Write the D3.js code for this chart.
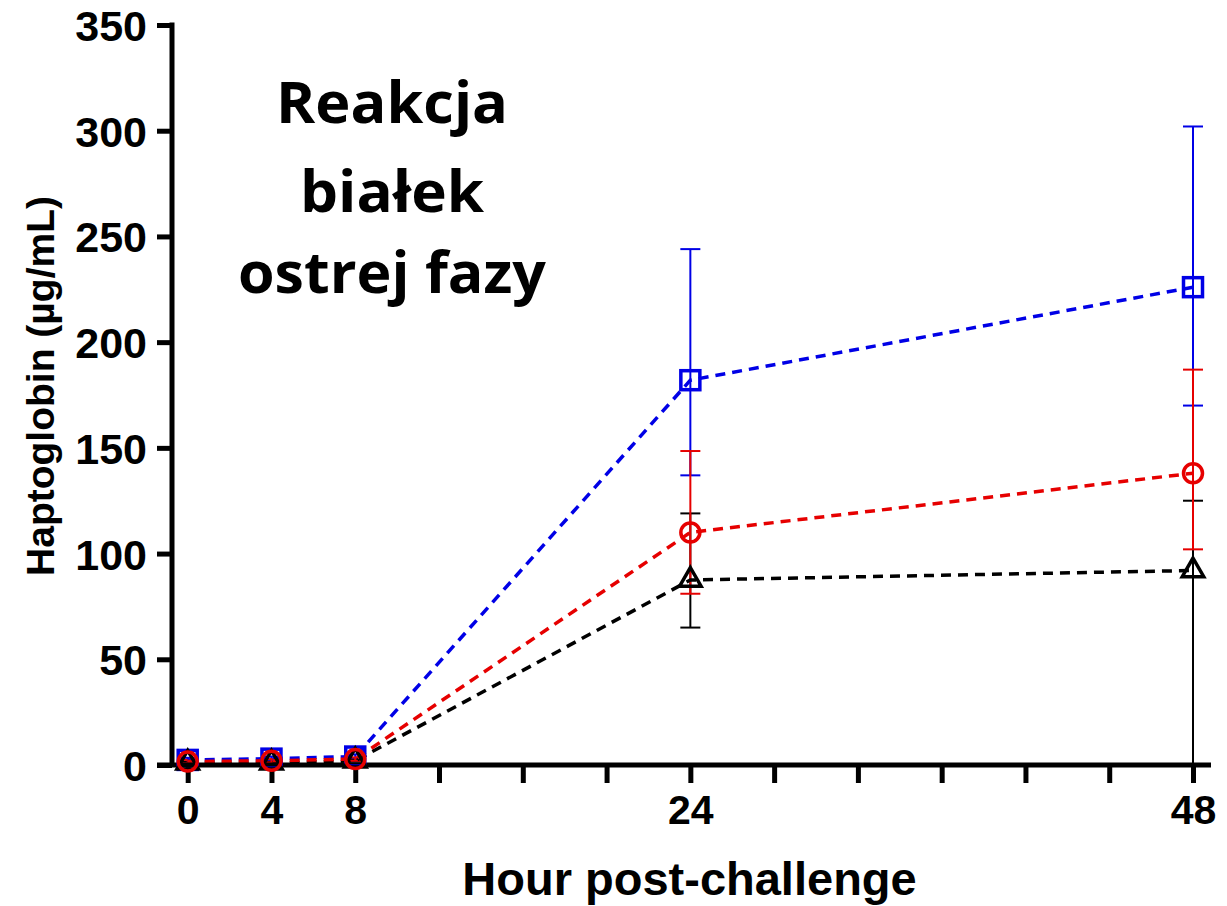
<!DOCTYPE html>
<html>
<head>
<meta charset="utf-8">
<script src="https://cdn.jsdelivr.net/npm/d3@7"></script>
<style>
  html, body { margin: 0; padding: 0; background: #fff; }
  svg { display: block; }
</style>
</head>
<body>
<svg id="chart" width="1227" height="906"></svg>
<script>
// ---- data ----
const hours = [0, 4, 8, 24, 48];
const xTickLabels = ["0", "4", "8", "24", "48"];
const xMinorTicks = [12, 16, 20, 28, 32, 36, 40, 44];
const yTicks = [0, 50, 100, 150, 200, 250, 300, 350];

const blueMean  = [2.4, 3, 4, 182, 226];
const blueLow   = [1.4, 2, 3, 137, 170];
const blueHigh  = [3.4, 4, 5, 244, 302];

const redMean   = [1.6, 2, 2.8, 110, 138];
const redLow    = [0.8, 1.2, 2, 81, 102];
const redHigh   = [2.4, 2.8, 3.6, 148.5, 187];

const blackMean = [1, 1, 2, 87.5, 92];
const blackLow  = [0.5, 0.5, 1.5, 65, 0];
const blackHigh = [1.5, 1.5, 2.5, 119, 125];

const titleLines = ["Reakcja", "białek", "ostrej fazy"];
const xLabel = "Hour post-challenge";
const yLabel = "Haptoglobin (µg/mL)";

// ---- layout ----
const svg = d3.select("#chart");
const x = d3.scaleLinear().domain([0, 48]).range([187.7, 1193]);
const y = d3.scaleLinear().domain([0, 350]).range([765, 25]);

const blue = "#0000e6", red = "#e60000", black = "#000000";

function build(mean, low, high) {
  return hours.map((h, i) => ({h, m: mean[i], lo: low[i], hi: high[i]}));
}
const series = [
  {name: "blue", color: blue, data: build(blueMean, blueLow, blueHigh), marker: "square"},
  {name: "black", color: black, data: build(blackMean, blackLow, blackHigh), marker: "triangle"},
  {name: "red", color: red, data: build(redMean, redLow, redHigh), marker: "circle"}
];

// error bars
const capW = 10;
series.forEach(s => {
  const g = svg.append("g");
  s.data.forEach(d => {
    g.append("line").attr("x1", x(d.h)).attr("x2", x(d.h))
      .attr("y1", y(d.lo)).attr("y2", y(d.hi))
      .attr("stroke", s.color).attr("stroke-width", 2);
    [d.lo, d.hi].forEach(v => {
      g.append("line").attr("x1", x(d.h) - capW).attr("x2", x(d.h) + capW)
        .attr("y1", y(v)).attr("y2", y(v))
        .attr("stroke", s.color).attr("stroke-width", 2);
    });
  });
});

// dashed lines
const line = d3.line().x(d => x(d.h)).y(d => y(d.m));
series.forEach(s => {
  svg.append("path").datum(s.data).attr("d", line)
    .attr("fill", "none").attr("stroke", s.color)
    .attr("stroke-width", 3.5).attr("stroke-dasharray", "10,7");
});

// axes
const axisG = svg.append("g");
// y axis
const yAxis = d3.axisLeft(y).tickValues(yTicks).tickSize(15).tickPadding(10);
const yg = axisG.append("g").attr("transform", "translate(172,0)").call(yAxis);
yg.select(".domain").remove();
yg.selectAll(".tick line").attr("stroke", "#000").attr("stroke-width", 5);
yg.selectAll(".tick text").attr("font-family", "'Liberation Sans', Arial, sans-serif")
  .attr("font-weight", "bold").attr("font-size", 43).attr("fill", "#000").attr("dy", "0.36em");
axisG.append("line").attr("x1", 172).attr("x2", 172).attr("y1", y(350) - 2.5).attr("y2", y(0))
  .attr("stroke", "#000").attr("stroke-width", 5);

// x axis
const xAxis = d3.axisBottom(x).tickValues(hours).tickFormat((d, i) => xTickLabels[i]).tickSize(18).tickPadding(12);
const xg = axisG.append("g").attr("transform", `translate(0,${y(0)})`).call(xAxis);
xg.select(".domain").remove();
xg.selectAll(".tick line").attr("stroke", "#000").attr("stroke-width", 5);
xg.selectAll(".tick text").attr("font-family", "'Liberation Sans', Arial, sans-serif")
  .attr("font-weight", "bold").attr("font-size", 41).attr("fill", "#000");
const xMinor = d3.axisBottom(x).tickValues(xMinorTicks).tickSize(18).tickFormat("");
const xmg = axisG.append("g").attr("transform", `translate(0,${y(0)})`).call(xMinor);
xmg.select(".domain").remove();
xmg.selectAll(".tick line").attr("stroke", "#000").attr("stroke-width", 5);
axisG.append("line").attr("x1", 157).attr("x2", 1211).attr("y1", y(0)).attr("y2", y(0))
  .attr("stroke", "#000").attr("stroke-width", 5);

// markers
series.forEach(s => {
  const g = svg.append("g");
  s.data.forEach(d => {
    const cx = x(d.h), cy = y(d.m);
    if (s.marker === "square") {
      g.append("rect").attr("x", cx - 9.5).attr("y", cy - 9.5).attr("width", 19).attr("height", 19)
        .attr("fill", "none").attr("stroke", s.color).attr("stroke-width", 3.5);
    } else if (s.marker === "circle") {
      g.append("circle").attr("cx", cx).attr("cy", cy).attr("r", 9.5)
        .attr("fill", "none").attr("stroke", s.color).attr("stroke-width", 3.5);
    } else {
      const tri = d3.symbol().type(d3.symbolTriangle).size(200);
      g.append("path").attr("d", tri()).attr("transform", `translate(${cx},${cy})`)
        .attr("fill", "none").attr("stroke", s.color).attr("stroke-width", 3.5)
        .attr("stroke-linejoin", "miter");
    }
  });
});

// axis titles
svg.append("text").attr("x", (463 + 916) / 2).attr("y", 895)
  .attr("text-anchor", "middle").attr("font-family", "'Liberation Sans', Arial, sans-serif")
  .attr("font-weight", "bold").attr("font-size", 47).attr("fill", "#000").text(xLabel);
svg.append("text").attr("transform", "translate(54,386) rotate(-90)")
  .attr("text-anchor", "middle").attr("font-family", "'Liberation Sans', Arial, sans-serif")
  .attr("font-weight", "bold").attr("font-size", 39).attr("fill", "#000").text(yLabel);

// annotation
const baselines = [123, 212, 293];
const lineWidths = [232, 184, 308];
titleLines.forEach((t, i) => {
  svg.append("text").attr("x", 392).attr("y", baselines[i])
    .attr("text-anchor", "middle").attr("font-family", "'Open Sans', Lato, sans-serif")
    .attr("font-weight", "bold").attr("font-size", 57).attr("fill", "#000")
    .attr("textLength", lineWidths[i]).attr("lengthAdjust", "spacingAndGlyphs")
    .text(t);
});
</script>
</body>
</html>
